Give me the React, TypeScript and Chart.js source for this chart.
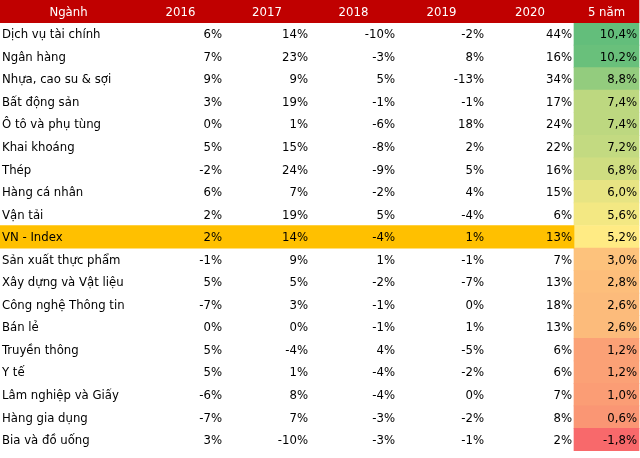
import React, { useEffect, useRef } from "react";
import { Chart, registerables } from "chart.js";

Chart.register(...registerables);

const headers = ["Ngành", "2016", "2017", "2018", "2019", "2020", "5 năm"];
const sectors = [
  "Dịch vụ tài chính",
  "Ngân hàng",
  "Nhựa, cao su & sợi",
  "Bất động sản",
  "Ô tô và phụ tùng",
  "Khai khoáng",
  "Thép",
  "Hàng cá nhân",
  "Vận tải",
  "VN - Index",
  "Sản xuất thực phẩm",
  "Xây dựng và Vật liệu",
  "Công nghệ Thông tin",
  "Bán lẻ",
  "Truyền thông",
  "Y tế",
  "Lâm nghiệp và Giấy",
  "Hàng gia dụng",
  "Bia và đồ uống",
];
const y2016 = [6, 7, 9, 3, 0, 5, -2, 6, 2, 2, -1, 5, -7, 0, 5, 5, -6, -7, 3];
const y2017 = [14, 23, 9, 19, 1, 15, 24, 7, 19, 14, 9, 5, 3, 0, -4, 1, 8, 7, -10];
const y2018 = [-10, -3, 5, -1, -6, -8, -9, -2, 5, -4, 1, -2, -1, -1, 4, -4, -4, -3, -3];
const y2019 = [-2, 8, -13, -1, 18, 2, 5, 4, -4, 1, -1, -7, 0, 1, -5, -2, 0, -2, -1];
const y2020 = [44, 16, 34, 17, 24, 22, 16, 15, 6, 13, 7, 13, 18, 13, 6, 6, 7, 8, 2];
const fiveYear = [10.4, 10.2, 8.8, 7.4, 7.4, 7.2, 6.8, 6.0, 5.6, 5.2, 3.0, 2.8, 2.6, 2.6, 1.2, 1.2, 1.0, 0.6, -1.8];
const highlightSector = "VN - Index";

// layout (x-axis units) – column edges
const COL_EDGES = [0, 137, 224, 310, 397, 486, 574, 639];
const FONT = '13px "DejaVu Sans Condensed", "DejaVu Sans", sans-serif';

const RED = "#C00000";
const ORANGE = "#FFC000";

function hex(c: string) {
  return [1, 3, 5].map((i) => parseInt(c.slice(i, i + 2), 16));
}
function mix(a: string, b: string, t: number) {
  const A = hex(a), B = hex(b);
  const r = A.map((v, i) => Math.round(v + (B[i] - v) * t));
  return `rgb(${r[0]},${r[1]},${r[2]})`;
}
function heatColor(v: number) {
  const sorted = [...fiveYear].sort((a, b) => a - b);
  const min = sorted[0], max = sorted[sorted.length - 1];
  const mid = sorted[Math.floor(sorted.length / 2)];
  if (v <= mid) return mix("#F8696B", "#FFEB84", (v - min) / (mid - min));
  return mix("#FFEB84", "#63BE7B", (v - mid) / (max - mid));
}
const pct = (v: number) => `${v}%`;
const pct1 = (v: number) => `${v.toFixed(1).replace(".", ",")}%`;

export default function App() {
  const ref = useRef<HTMLCanvasElement>(null);
  useEffect(() => {
    document.body.style.margin = "0";
    const labels = [headers[0], ...sectors];
    const n = labels.length;
    const headerBand = labels.map((_, i) => (i === 0 ? [COL_EDGES[0], COL_EDGES[7]] : null));
    const hlBand = labels.map((l) => (l === highlightSector ? [COL_EDGES[0], COL_EDGES[6]] : null));
    const heat = labels.map((_, i) => (i === 0 ? null : [COL_EDGES[6], COL_EDGES[7]]));
    const heatColors = labels.map((_, i) => (i === 0 ? "rgba(0,0,0,0)" : heatColor(fiveYear[i - 1])));
    const cols = [y2016, y2017, y2018, y2019, y2020];

    const textPlugin = {
      id: "tableText",
      afterDatasetsDraw(chart: any) {
        const { ctx, scales } = chart;
        const xs = scales.x, ys = scales.y;
        ctx.save();
        ctx.font = FONT;
        ctx.textBaseline = "middle";
        // header
        ctx.fillStyle = "#FFFFFF";
        ctx.textAlign = "center";
        headers.forEach((h, c) => {
          const cx = (xs.getPixelForValue(COL_EDGES[c]) + xs.getPixelForValue(COL_EDGES[c + 1])) / 2;
          ctx.fillText(h, cx, ys.getPixelForValue(0) + 1);
        });
        ctx.fillStyle = "#000000";
        sectors.forEach((s, r) => {
          const y = ys.getPixelForValue(r + 1) + 1;
          ctx.textAlign = "left";
          ctx.fillText(s, xs.getPixelForValue(COL_EDGES[0]) + 2, y);
          ctx.textAlign = "right";
          cols.forEach((arr, c) => {
            ctx.fillText(pct(arr[r]), xs.getPixelForValue(COL_EDGES[c + 2]) - 2, y);
          });
          ctx.fillText(pct1(fiveYear[r]), xs.getPixelForValue(COL_EDGES[7]) - 2, y);
        });
        ctx.restore();
      },
    };

    const chart = new Chart(ref.current!, {
      type: "bar",
      data: {
        labels,
        datasets: [
          { data: headerBand as any, backgroundColor: RED, grouped: false, barPercentage: 1, categoryPercentage: 1, borderWidth: 0 },
          { data: hlBand as any, backgroundColor: ORANGE, grouped: false, barPercentage: 1, categoryPercentage: 1, borderWidth: 0 },
          { data: heat as any, backgroundColor: heatColors, grouped: false, barPercentage: 1, categoryPercentage: 1, borderWidth: 0 },
        ],
      },
      options: {
        indexAxis: "y",
        animation: false,
        responsive: true,
        maintainAspectRatio: false,
        layout: { padding: 0 },
        plugins: { legend: { display: false }, tooltip: { enabled: false } },
        scales: {
          x: { type: "linear", min: 0, max: 640, display: false },
          y: { type: "category", display: false },
        },
      },
      plugins: [textPlugin],
    });
    return () => chart.destroy();
  }, []);
  return (
    <div style={{ width: 640, height: 451, position: "relative", background: "#fff" }}>
      <canvas ref={ref} />
    </div>
  );
}
